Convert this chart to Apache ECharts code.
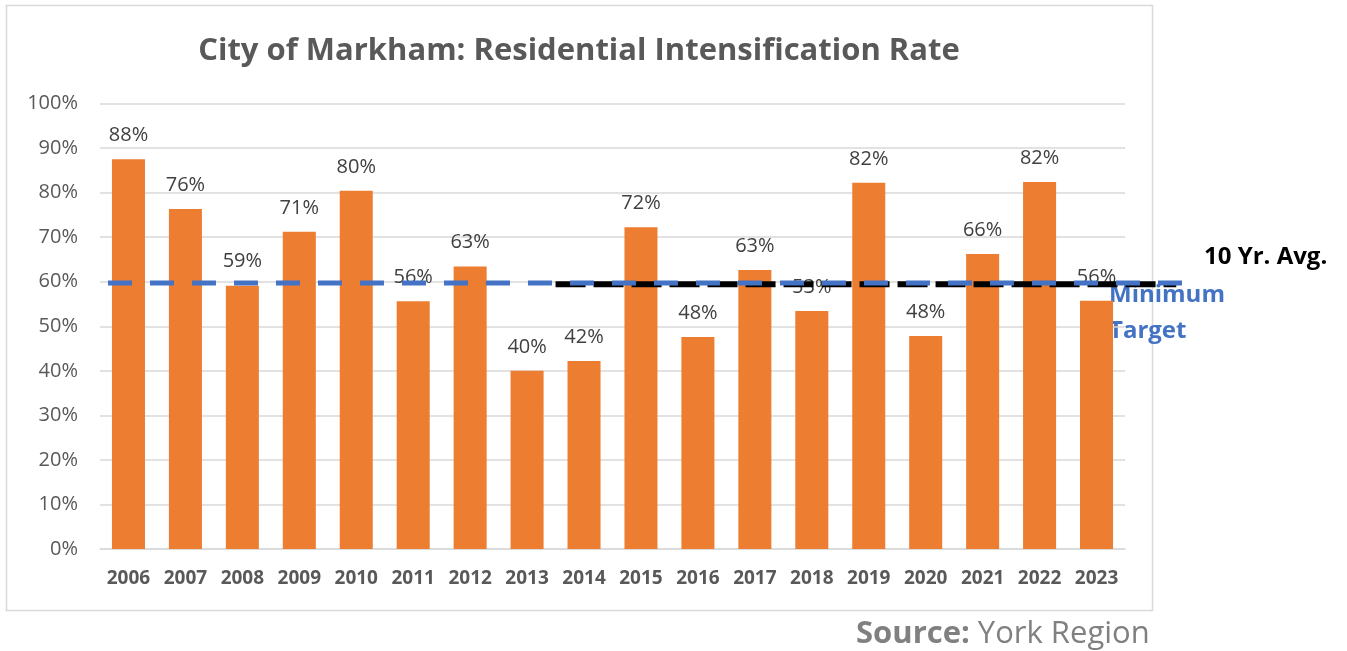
<!DOCTYPE html>
<html>
<head>
<meta charset="utf-8">
<script src="https://cdn.jsdelivr.net/npm/echarts@6/dist/echarts.min.js"></script>
<style>
  html, body { margin: 0; padding: 0; background: #fff; }
  #chart { width: 1347px; height: 651px; }
</style>
</head>
<body>
<div id="chart"></div>
<script>
// years along the bottom
const years = ['2006', '2007', '2008', '2009', '2010', '2011', '2012', '2013', '2014',
  '2015', '2016', '2017', '2018', '2019', '2020', '2021', '2022', '2023']
// intensification rate, percent
const rates = [87.5, 76.3, 59.1, 71.2, 80.4, 55.6, 63.4, 40.0, 42.2,
  72.2, 47.6, 62.6, 53.4, 82.2, 47.8, 66.2, 82.4, 55.7]
// reference lines: [start, end] in category units, and their level in percent
const minTargetSpan = [0.14, 19.14]
const minTarget = 59.7
const tenYrSpan = [8.0, 18.9]
const tenYrAvg = 59.4
const yTicks = [0, 100, 10]

const myChart = echarts.init(document.getElementById('chart'))
const grey = '#595959'
const font = '"Open Sans", "Noto Sans", sans-serif'

// the lines run past the plot, so they get a wider grid with the same scale
const catWidth = 1025 / years.length
const lineGridRight = 1347 - 1192

myChart.setOption({
  animation: false,
  textStyle: { fontFamily: font },
  title: {
    text: 'City of Markham: Residential Intensification Rate',
    left: 574,
    top: 31,
    textAlign: 'center',
    textStyle: { fontSize: 31, fontWeight: 'bold', color: grey, fontFamily: font }
  },
  grid: [
    { left: 100, right: 222, top: 103.5, bottom: 102 },
    { left: 100, right: lineGridRight, top: 103.5, bottom: 102 }
  ],
  graphic: [
    {
      type: 'rect',
      shape: { x: 6.5, y: 5.5, width: 1146, height: 605 },
      style: { fill: 'none', stroke: '#d9d9d9', lineWidth: 1.5 },
      z: -1
    },
    {
      type: 'text', left: 1204, top: 245,
      style: { text: '10 Yr. Avg.', font: 'bold 24px ' + font, fill: '#000' }
    },
    {
      type: 'text', left: 1109, top: 277,
      style: { text: 'Minimum\nTarget', font: 'bold 24px ' + font, fill: '#4472c4', lineHeight: 36 }
    },
    {
      type: 'text', left: 856, top: 619,
      style: {
        text: '{b|Source:} York Region',
        font: '31px ' + font, fill: '#808080',
        rich: { b: { fontWeight: 'bold', fontSize: 31, fill: '#808080', fontFamily: font } }
      }
    }
  ],
  xAxis: [
    {
      type: 'category',
      data: years,
      axisTick: { show: false },
      axisLine: { lineStyle: { color: '#d9d9d9', width: 1.5 } },
      axisLabel: { interval: 0, margin: 20, fontSize: 19, fontWeight: 'bold', color: grey }
    },
    {
      type: 'value', gridIndex: 1, min: 0,
      max: (1347 - lineGridRight - 100) / catWidth,
      show: false
    }
  ],
  yAxis: [
    {
      type: 'value',
      min: yTicks[0],
      max: yTicks[1],
      interval: yTicks[2],
      axisLine: { show: false },
      axisTick: { show: false },
      splitLine: { lineStyle: { color: '#d9d9d9', width: 1.5 } },
      axisLabel: { formatter: '{value}%', fontSize: 20, color: grey, margin: 22 }
    },
    { type: 'value', gridIndex: 1, min: yTicks[0], max: yTicks[1], show: false }
  ],
  series: [
    {
      type: 'bar',
      data: rates,
      barCategoryGap: '42%',
      itemStyle: { color: '#ed7d31' },
      label: {
        show: true,
        position: 'top',
        distance: 14,
        fontSize: 20,
        color: '#404040',
        formatter: p => Math.round(p.value) + '%'
      },
      z: 2
    },
    {
      type: 'line',
      xAxisIndex: 1,
      yAxisIndex: 1,
      data: [[tenYrSpan[0], tenYrAvg], [tenYrSpan[1], tenYrAvg]],
      symbol: 'none',
      clip: false,
      lineStyle: { color: '#000', width: 6, type: [30, 8] },
      z: 3
    },
    {
      type: 'line',
      xAxisIndex: 1,
      yAxisIndex: 1,
      data: [[minTargetSpan[0], minTarget], [minTargetSpan[1], minTarget]],
      symbol: 'none',
      clip: false,
      lineStyle: { color: '#4472c4', width: 5, type: [24, 18] },
      z: 4
    }
  ]
})
window.onresize = function () {
  myChart.resize()
}
</script>
</body>
</html>
